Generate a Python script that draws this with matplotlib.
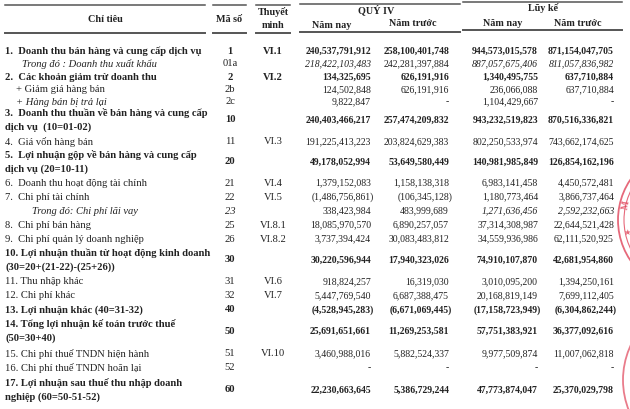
# Bao cao ket qua kinh doanh - Quy IV (bang so lieu)
import matplotlib.pyplot as plt
from matplotlib.patches import Circle

plt.rcParams['font.family'] = ['Liberation Serif', 'DejaVu Serif']

# Du lieu
labels = [
    "1.  Doanh thu bán hàng và cung cấp dịch vụ",
    "Trong đó : Doanh thu xuất khẩu",
    "2.  Các khoản giảm trừ doanh thu",
    "+ Giảm giá hàng bán",
    "+ Hàng bán bị trả lại",
    "3.  Doanh thu thuần về bán hàng và cung cấp\ndịch vụ  (10=01-02)",
    "4.  Giá vốn hàng bán",
    "5.  Lợi nhuận gộp về bán hàng và cung cấp\ndịch vụ (20=10-11)",
    "6.  Doanh thu hoạt động tài chính",
    "7.  Chi phí tài chính",
    "Trong đó: Chi phí lãi vay",
    "8.  Chi phí bán hàng",
    "9.  Chi phí quản lý doanh nghiệp",
    "10. Lợi nhuận thuần từ hoạt động kinh doanh\n(30=20+(21-22)-(25+26))",
    "11. Thu nhập khác",
    "12. Chi phí khác",
    "13. Lợi nhuận khác (40=31-32)",
    "14. Tổng lợi nhuận kế toán trước thuế\n(50=30+40)",
    "15. Chi phí thuế TNDN hiện hành",
    "16. Chi phí thuế TNDN hoãn lại",
    "17. Lợi nhuận sau thuế thu nhập doanh\nnghiệp (60=50-51-52)",
]
codes = ["1", "01a", "2", "2b", "2c", "10", "11", "20", "21", "22", "23",
         "25", "26", "30", "31", "32", "40", "50", "51", "52", "60"]
notes = ["VI.1", "", "VI.2", "", "", "", "VI.3", "", "VI.4", "VI.5", "",
         "VI.8.1", "VI.8.2", "", "VI.6", "VI.7", "", "", "VI.10", "", ""]

q4_now = [240537791912, 218422103483, 134325695, 124502848, 9822847,
          240403466217, 191225413223, 49178052994, 1379152083, -1486756861,
          338423984, 18085970570, 3737394424, 30220596944, 918824257,
          5447769540, -4528945283, 25691651661, 3460988016, None, 22230663645]
q4_prev = [258100401748, 242281397884, 626191916, 626191916, None,
           257474209832, 203824629383, 53649580449, 1158138318, -106345128,
           483999689, 6890257057, 30083483812, 17940323026, 16319030,
           6687388475, -6671069445, 11269253581, 5882524337, None, 5386729244]
lk_now = [944573015578, 887057675406, 1340495755, 236066088, 1104429667,
          943232519823, 802250533974, 140981985849, 6983141458, 1180773464,
          1271636456, 37314308987, 34559936986, 74910107870, 3010095200,
          20168819149, -17158723949, 57751383921, 9977509874, None, 47773874047]
lk_prev = [871154047705, 811057836982, 637710884, 637710884, None,
           870516336821, 743662174625, 126854162196, 4450572481, 3866737464,
           2592232663, 22644521428, 62111520925, 42681954860, 1394250161,
           7699112405, -6304862244, 36377092616, 11007062818, None, 25370029798]

# Kieu chu va vi tri dong
bold_rows = {0, 2, 5, 7, 13, 16, 17, 20}
italic_label = {1, 4, 10}
row_y = [51, 64, 77, 90, 102, 120, 142, 162, 183, 197, 211, 225, 239,
         260, 282, 296, 310, 331, 354, 368, 390]
label_x = {1: 22, 3: 16, 4: 16, 10: 32}
col_right = [371, 449, 538, 614]

# italic cho tung o so
italic_cell = {(1, 0), (1, 2), (1, 3), (10, 2), (10, 3)}

def fmt(v):
    if v is None:
        return "-"
    s = "{:,}".format(abs(v))
    return "(" + s + ")" if v < 0 else s

fig = plt.figure(figsize=(6.3, 4.09), dpi=100)
ax = fig.add_axes([0, 0, 1, 1])
ax.set_xlim(0, 630)
ax.set_ylim(409, 0)
ax.axis('off')

fs = 7.6      # chu
fn = 7.0      # so
col = '#222222'
lc = '#555555'

# Header lines
for x0, x1, yt, yb in [(5, 205, 5, 33), (213, 246, 5, 33), (256, 290, 5, 33),
                       (300, 460, 4, 32), (463, 622, 2, 30)]:
    ax.plot([x0, x1], [yt, yt], color=lc, lw=1.1)
    ax.plot([x0, x1], [yb, yb], color=lc, lw=1.4)

hd = dict(fontsize=7.3, fontweight='bold', color=col, ha='center', va='center')
ax.text(105, 19, "Chỉ tiêu", **hd)
ax.text(229, 19, "Mã số", **hd)
ax.text(273, 12, "Thuyết", **hd)
ax.text(273, 25, "minh", **hd)
ax.text(376, 10, "QUÝ IV", **hd)
ax.text(332, 25, "Năm nay", **hd)
ax.text(413, 24, "Năm trước", **hd)
ax.text(543, 8, "Lũy kế", **hd)
ax.text(503, 24, "Năm nay", **hd)
ax.text(578, 23, "Năm trước", **hd)

series = [q4_now, q4_prev, lk_now, lk_prev]
for i, lab in enumerate(labels):
    y = row_y[i]
    w = 'bold' if i in bold_rows else 'normal'
    st = 'italic' if i in italic_label else 'normal'
    lines = lab.split("\n")
    x = label_x.get(i, 5)
    if len(lines) == 1:
        ax.text(x, y, lines[0], fontsize=fs, fontweight=w, fontstyle=st,
                color=col, ha='left', va='center')
    else:
        ax.text(x, y - 7, lines[0], fontsize=fs, fontweight=w, color=col,
                ha='left', va='center')
        ax.text(x, y + 7, lines[1], fontsize=fs, fontweight=w, color=col,
                ha='left', va='center')
    ax.text(230, y, codes[i], fontsize=fs, fontweight=w,
            fontstyle='italic' if i == 10 else 'normal',
            color=col, ha='center', va='center')
    if notes[i]:
        ax.text(273, y, notes[i], fontsize=fs,
                fontweight='bold' if i in (0, 2) else 'normal',
                color=col, ha='center', va='center')
    for j, s in enumerate(series):
        v = s[i]
        xr = col_right[j]
        cst = 'italic' if (i, j) in italic_cell else 'normal'
        if v is None:
            ax.text(xr - 2, y, "-", fontsize=fn, color=col, ha='center', va='center')
        else:
            if v < 0:
                xr += 3
            ax.text(xr, y, fmt(v), fontsize=fn, fontweight=w, fontstyle=cst,
                    color=col, ha='right', va='center')

# Con dau do (mot phan) o mep phai
red = '#e0445a'
for r, lw in [(72, 1.3), (66, 0.8)]:
    ax.add_patch(Circle((690, 220), r, fill=False, ec=red, lw=lw, alpha=0.8))
ax.add_patch(Circle((705, 380), 82, fill=False, ec=red, lw=1.3, alpha=0.7))
ax.text(626, 205, "M", fontsize=7, color=red, rotation=80, ha='center', va='center',
        fontweight='bold', alpha=0.8)
ax.text(627, 232, "★", fontsize=6, color=red, ha='center', va='center',
        family='DejaVu Sans', alpha=0.8)

plt.savefig('out.png', dpi=100, facecolor='white')
